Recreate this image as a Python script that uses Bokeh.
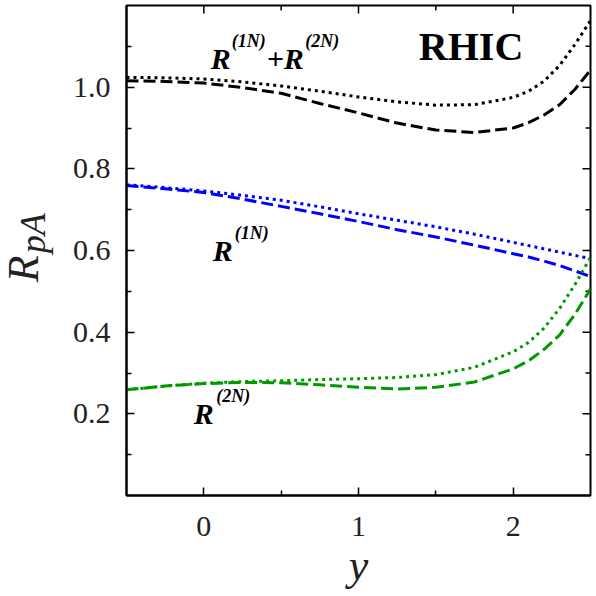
import math
from bokeh.plotting import figure
from bokeh.layouts import row
from bokeh.models import Range1d, FixedTicker, LinearAxis, PrintfTickFormatter, Label
from bokeh.core.properties import value
from bokeh.embed import file_html
from bokeh.resources import INLINE

# rapidity grid
y_rap = [-0.5, -0.25, 0.0, 0.25, 0.5, 0.75, 1.0, 1.25, 1.5, 1.75, 2.0, 2.1, 2.2, 2.3, 2.4, 2.5]

# one-nucleon contribution R^(1N)
r1n_dash = [0.759, 0.751, 0.742, 0.726, 0.708, 0.690, 0.671, 0.651, 0.633, 0.613, 0.592, 0.584, 0.574, 0.563, 0.550, 0.536]
r1n_dot = [0.761, 0.754, 0.746, 0.735, 0.723, 0.707, 0.690, 0.674, 0.658, 0.640, 0.620, 0.612, 0.604, 0.596, 0.588, 0.580]

# two-nucleon contribution R^(2N)
r2n_dash = [0.259, 0.268, 0.274, 0.277, 0.276, 0.271, 0.265, 0.261, 0.265, 0.278, 0.310, 0.330, 0.358, 0.393, 0.444, 0.506]
r2n_dot = [0.259, 0.268, 0.275, 0.279, 0.281, 0.284, 0.286, 0.289, 0.296, 0.314, 0.352, 0.375, 0.410, 0.458, 0.517, 0.583]

# total R^(1N)+R^(2N)
rsum_dash = [1.016, 1.014, 1.010, 0.999, 0.985, 0.960, 0.937, 0.912, 0.895, 0.889, 0.900, 0.913, 0.932, 0.957, 0.995, 1.042]
rsum_dot = [1.024, 1.023, 1.020, 1.013, 1.003, 0.990, 0.976, 0.964, 0.956, 0.957, 0.975, 0.990, 1.015, 1.053, 1.105, 1.163]

x_major = [0, 1, 2]
x_minor = [0.5, 1.5]
y_major = [0.2, 0.4, 0.6, 0.8, 1.0]
y_minor = [0.1, 0.3, 0.5, 0.7, 0.9, 1.1]

X_LO, X_HI = -0.5, 2.5
Y_LO, Y_HI = 0.0, 1.2

BLACK = "#000000"
BLUE = "#0000ff"
GREEN = "#009a00"
TEXT_GREY = "#222222"
DASH = "12 5"
DOT = "3 4"
SERIF = "Liberation Serif"

p = figure(width=540, height=596, frame_width=464, frame_height=490,
           x_range=Range1d(X_LO, X_HI), y_range=Range1d(Y_LO, Y_HI),
           output_backend="svg", toolbar_location=None,
           min_border_left=70, min_border_right=6,
           min_border_top=5, min_border_bottom=101,
           x_axis_location=None, y_axis_location=None)
p.grid.visible = False
p.outline_line_color = BLACK
p.outline_line_width = 2
p.background_fill_color = "white"
p.border_fill_color = "white"


def make_axis(ticks, minor):
    ax = LinearAxis(ticker=FixedTicker(ticks=ticks, minor_ticks=minor))
    ax.axis_line_width = 2
    ax.axis_line_color = BLACK
    ax.major_tick_in = 8
    ax.major_tick_out = 0
    ax.minor_tick_in = 5
    ax.minor_tick_out = 0
    ax.major_tick_line_width = 1.5
    ax.minor_tick_line_width = 1.5
    ax.major_label_text_font = SERIF
    ax.major_label_text_font_size = "30px"
    ax.major_label_text_color = TEXT_GREY
    return ax


bottom = make_axis(x_major, x_minor)
bottom.major_label_standoff = 21
bottom.axis_label = "y"
bottom.axis_label_text_font = SERIF
bottom.axis_label_text_font_style = "italic"
bottom.axis_label_text_font_size = "44px"
bottom.axis_label_text_color = TEXT_GREY
bottom.axis_label_standoff = 2
p.add_layout(bottom, "below")

left = make_axis(y_major, y_minor)
left.major_label_standoff = 16
left.formatter = PrintfTickFormatter(format="%.1f")
p.add_layout(left, "left")

# inward ticks on the top and right edges of the frame
TICK_MAJ, TICK_MIN = 8, 5
p.ray(x=x_major, y=[Y_HI] * len(x_major), length=TICK_MAJ, length_units="screen",
      angle=-math.pi / 2, line_color=BLACK, line_width=1.5)
p.ray(x=x_minor, y=[Y_HI] * len(x_minor), length=TICK_MIN, length_units="screen",
      angle=-math.pi / 2, line_color=BLACK, line_width=1.5)
p.ray(x=[X_HI] * len(y_major), y=y_major, length=TICK_MAJ, length_units="screen",
      angle=math.pi, line_color=BLACK, line_width=1.5)
p.ray(x=[X_HI] * len(y_minor), y=y_minor, length=TICK_MIN, length_units="screen",
      angle=math.pi, line_color=BLACK, line_width=1.5)

LW = 3
p.line(y_rap, rsum_dot, line_color=BLACK, line_width=LW, line_dash=DOT)
p.line(y_rap, rsum_dash, line_color=BLACK, line_width=LW, line_dash=DASH)
p.line(y_rap, r1n_dot, line_color=BLUE, line_width=LW, line_dash=DOT)
p.line(y_rap, r1n_dash, line_color=BLUE, line_width=LW, line_dash=DASH)
p.line(y_rap, r2n_dot, line_color=GREEN, line_width=LW, line_dash=DOT)
p.line(y_rap, r2n_dash, line_color=GREEN, line_width=LW, line_dash=DASH)


def txt(x, y, s, size, style="bold italic"):
    p.add_layout(Label(x=x, y=y, text=s, text_font=SERIF,
                       text_font_size=size, text_font_style=style,
                       text_color=BLACK, text_baseline="alphabetic",
                       text_align="left"))


# curve labels: R with superscripts
txt(0.045, 1.070, "R", "30px")
txt(0.181, 1.113, "(1N)", "18px")
txt(0.406, 1.070, "+R", "30px")
txt(0.655, 1.113, "(2N)", "18px")

txt(0.058, 0.600, "R", "30px")
txt(0.200, 0.643, "(1N)", "18px")

txt(-0.065, 0.201, "R", "30px")
txt(0.080, 0.243, "(2N)", "18px")

txt(1.390, 1.100, "RHIC", "40px", style="bold")

# vertical axis title R_pA in a narrow side panel sharing the vertical scale
side = figure(width=56, height=596, frame_width=56, frame_height=490,
              x_range=Range1d(0, 56), y_range=Range1d(Y_LO, Y_HI),
              output_backend="svg", toolbar_location=None,
              min_border_left=0, min_border_right=0, min_border_top=5, min_border_bottom=101,
              x_axis_location=None, y_axis_location=None)
side.grid.visible = False
side.outline_line_color = None
side.border_fill_color = "white"
side.text(x=[23], y=[0.522], text=["R"], angle=math.pi / 2,
          text_font=value(SERIF), text_font_style="italic", text_font_size="44px",
          text_color=TEXT_GREY, text_baseline="middle", text_align="left")
side.text(x=[32], y=[0.593], text=["pA"], angle=math.pi / 2,
          text_font=value(SERIF), text_font_style="italic", text_font_size="36px",
          text_color=TEXT_GREY, text_baseline="middle", text_align="left")

layout = row(side, p, spacing=0)
open("out.html", "w").write(file_html(layout, INLINE))
